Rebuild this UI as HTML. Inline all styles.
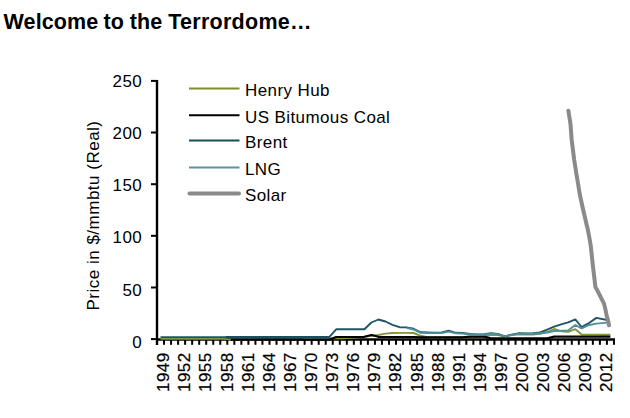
<!DOCTYPE html>
<html><head><meta charset="utf-8"><style>
html,body{margin:0;padding:0;background:#fff;}
body{width:630px;height:418px;overflow:hidden;}
svg{display:block;}
text{font-family:"Liberation Sans",sans-serif;font-size:17px;fill:#000;letter-spacing:0.5px;}
</style></head><body>
<svg width="630" height="418" viewBox="0 0 630 418">
<rect width="630" height="418" fill="#fff"/>
<text y="28.8" style="font-weight:bold;font-size:21.5px;letter-spacing:0.1px"><tspan x="3.6">Welcome</tspan> <tspan x="103.6">to</tspan> <tspan x="129.8">the</tspan> <tspan x="168.2" style="letter-spacing:0.28px">Terrordome…</tspan></text>
<text x="98.5" y="215.5" text-anchor="middle" transform="rotate(-90 98.5 215.5)">Price in $/mmbtu (Real)</text>
<g><text x="142.3" y="87.0" text-anchor="end">250</text><text x="142.3" y="139.1" text-anchor="end">200</text><text x="142.3" y="191.2" text-anchor="end">150</text><text x="142.3" y="243.4" text-anchor="end">100</text><text x="142.3" y="295.5" text-anchor="end">50</text><text x="142.3" y="347.6" text-anchor="end">0</text></g>
<g style="stroke:#000;stroke-width:0.2px"><text x="169.20" y="352.2" text-anchor="end" transform="rotate(-90 169.20 352.2)">1949</text><text x="190.31" y="352.2" text-anchor="end" transform="rotate(-90 190.31 352.2)">1952</text><text x="211.42" y="352.2" text-anchor="end" transform="rotate(-90 211.42 352.2)">1955</text><text x="232.53" y="352.2" text-anchor="end" transform="rotate(-90 232.53 352.2)">1958</text><text x="253.64" y="352.2" text-anchor="end" transform="rotate(-90 253.64 352.2)">1961</text><text x="274.75" y="352.2" text-anchor="end" transform="rotate(-90 274.75 352.2)">1964</text><text x="295.86" y="352.2" text-anchor="end" transform="rotate(-90 295.86 352.2)">1967</text><text x="316.97" y="352.2" text-anchor="end" transform="rotate(-90 316.97 352.2)">1970</text><text x="338.08" y="352.2" text-anchor="end" transform="rotate(-90 338.08 352.2)">1973</text><text x="359.19" y="352.2" text-anchor="end" transform="rotate(-90 359.19 352.2)">1976</text><text x="380.30" y="352.2" text-anchor="end" transform="rotate(-90 380.30 352.2)">1979</text><text x="401.41" y="352.2" text-anchor="end" transform="rotate(-90 401.41 352.2)">1982</text><text x="422.52" y="352.2" text-anchor="end" transform="rotate(-90 422.52 352.2)">1985</text><text x="443.63" y="352.2" text-anchor="end" transform="rotate(-90 443.63 352.2)">1988</text><text x="464.74" y="352.2" text-anchor="end" transform="rotate(-90 464.74 352.2)">1991</text><text x="485.85" y="352.2" text-anchor="end" transform="rotate(-90 485.85 352.2)">1994</text><text x="506.96" y="352.2" text-anchor="end" transform="rotate(-90 506.96 352.2)">1997</text><text x="528.07" y="352.2" text-anchor="end" transform="rotate(-90 528.07 352.2)">2000</text><text x="549.18" y="352.2" text-anchor="end" transform="rotate(-90 549.18 352.2)">2003</text><text x="570.29" y="352.2" text-anchor="end" transform="rotate(-90 570.29 352.2)">2006</text><text x="591.40" y="352.2" text-anchor="end" transform="rotate(-90 591.40 352.2)">2009</text><text x="612.51" y="352.2" text-anchor="end" transform="rotate(-90 612.51 352.2)">2012</text></g>
<g stroke="#000" stroke-width="2">
<line x1="157" y1="80" x2="157" y2="345" stroke-width="2.4"/>
<line x1="156" y1="339.5" x2="615" y2="339.5" stroke-width="2.6"/>
<line x1="151" y1="80.9" x2="157" y2="80.9"/><line x1="151" y1="132.5" x2="157" y2="132.5"/><line x1="151" y1="184.2" x2="157" y2="184.2"/><line x1="151" y1="235.8" x2="157" y2="235.8"/><line x1="151" y1="287.5" x2="157" y2="287.5"/><line x1="151" y1="339.1" x2="157" y2="339.1"/>
<line x1="157.00" y1="339" x2="157.00" y2="344.8" />
<line x1="164.03" y1="339" x2="164.03" y2="344.8" />
<line x1="171.06" y1="339" x2="171.06" y2="344.8" />
<line x1="178.09" y1="339" x2="178.09" y2="344.8" />
<line x1="185.12" y1="339" x2="185.12" y2="344.8" />
<line x1="192.15" y1="339" x2="192.15" y2="344.8" />
<line x1="199.18" y1="339" x2="199.18" y2="344.8" />
<line x1="206.21" y1="339" x2="206.21" y2="344.8" />
<line x1="213.24" y1="339" x2="213.24" y2="344.8" />
<line x1="220.27" y1="339" x2="220.27" y2="344.8" />
<line x1="227.30" y1="339" x2="227.30" y2="344.8" />
<line x1="234.33" y1="339" x2="234.33" y2="344.8" />
<line x1="241.36" y1="339" x2="241.36" y2="344.8" />
<line x1="248.39" y1="339" x2="248.39" y2="344.8" />
<line x1="255.42" y1="339" x2="255.42" y2="344.8" />
<line x1="262.45" y1="339" x2="262.45" y2="344.8" />
<line x1="269.48" y1="339" x2="269.48" y2="344.8" />
<line x1="276.51" y1="339" x2="276.51" y2="344.8" />
<line x1="283.54" y1="339" x2="283.54" y2="344.8" />
<line x1="290.57" y1="339" x2="290.57" y2="344.8" />
<line x1="297.60" y1="339" x2="297.60" y2="344.8" />
<line x1="304.63" y1="339" x2="304.63" y2="344.8" />
<line x1="311.66" y1="339" x2="311.66" y2="344.8" />
<line x1="318.69" y1="339" x2="318.69" y2="344.8" />
<line x1="325.72" y1="339" x2="325.72" y2="344.8" />
<line x1="332.75" y1="339" x2="332.75" y2="344.8" />
<line x1="339.78" y1="339" x2="339.78" y2="344.8" />
<line x1="346.81" y1="339" x2="346.81" y2="344.8" />
<line x1="353.84" y1="339" x2="353.84" y2="344.8" />
<line x1="360.87" y1="339" x2="360.87" y2="344.8" />
<line x1="367.90" y1="339" x2="367.90" y2="344.8" />
<line x1="374.93" y1="339" x2="374.93" y2="344.8" />
<line x1="381.96" y1="339" x2="381.96" y2="344.8" />
<line x1="388.99" y1="339" x2="388.99" y2="344.8" />
<line x1="396.02" y1="339" x2="396.02" y2="344.8" />
<line x1="403.05" y1="339" x2="403.05" y2="344.8" />
<line x1="410.08" y1="339" x2="410.08" y2="344.8" />
<line x1="417.11" y1="339" x2="417.11" y2="344.8" />
<line x1="424.14" y1="339" x2="424.14" y2="344.8" />
<line x1="431.17" y1="339" x2="431.17" y2="344.8" />
<line x1="438.20" y1="339" x2="438.20" y2="344.8" />
<line x1="445.23" y1="339" x2="445.23" y2="344.8" />
<line x1="452.26" y1="339" x2="452.26" y2="344.8" />
<line x1="459.29" y1="339" x2="459.29" y2="344.8" />
<line x1="466.32" y1="339" x2="466.32" y2="344.8" />
<line x1="473.35" y1="339" x2="473.35" y2="344.8" />
<line x1="480.38" y1="339" x2="480.38" y2="344.8" />
<line x1="487.41" y1="339" x2="487.41" y2="344.8" />
<line x1="494.44" y1="339" x2="494.44" y2="344.8" />
<line x1="501.47" y1="339" x2="501.47" y2="344.8" />
<line x1="508.50" y1="339" x2="508.50" y2="344.8" />
<line x1="515.53" y1="339" x2="515.53" y2="344.8" />
<line x1="522.56" y1="339" x2="522.56" y2="344.8" />
<line x1="529.59" y1="339" x2="529.59" y2="344.8" />
<line x1="536.62" y1="339" x2="536.62" y2="344.8" />
<line x1="543.65" y1="339" x2="543.65" y2="344.8" />
<line x1="550.68" y1="339" x2="550.68" y2="344.8" />
<line x1="557.71" y1="339" x2="557.71" y2="344.8" />
<line x1="564.74" y1="339" x2="564.74" y2="344.8" />
<line x1="571.77" y1="339" x2="571.77" y2="344.8" />
<line x1="578.80" y1="339" x2="578.80" y2="344.8" />
<line x1="585.83" y1="339" x2="585.83" y2="344.8" />
<line x1="592.86" y1="339" x2="592.86" y2="344.8" />
<line x1="599.89" y1="339" x2="599.89" y2="344.8" />
<line x1="606.92" y1="339" x2="606.92" y2="344.8" />
<line x1="613.95" y1="339" x2="613.95" y2="344.8" />
</g>
<g fill="none" stroke-linejoin="round">
<polyline points="160.5,338.9 167.5,338.9 174.6,338.9 181.6,338.9 188.6,338.9 195.7,338.9 202.7,338.9 209.7,338.9 216.7,338.9 223.8,338.9 230.8,339.6 237.8,339.6 244.9,339.6 251.9,339.6 258.9,339.6 265.9,339.6 273.0,339.6 280.0,339.6 287.0,339.6 294.1,339.6 301.1,339.6 308.1,338.7 315.2,338.7 322.2,338.7 329.2,338.6 336.2,338.4 343.3,338.2 350.3,337.8 357.3,337.4 364.4,336.8 371.4,335.8 378.4,335.0 385.5,333.6 392.5,333.0 399.5,332.9 406.6,332.9 413.6,333.0 420.6,335.8 427.6,337.3 434.7,337.3 441.7,337.3 448.7,337.3 455.8,337.3 462.8,337.3 469.8,337.0 476.9,337.0 483.9,336.5 490.9,334.9 497.9,335.0 505.0,336.6 512.0,334.6 519.0,334.4 526.1,334.5 533.1,334.6 540.1,333.8 547.2,332.0 554.2,329.0 561.2,331.2 568.2,331.8 575.3,329.2 581.6,334.5 589.3,334.6 596.4,334.6 603.4,334.8 610.4,334.6" stroke="#839638" stroke-width="1.9"/>
<polyline points="230.8,339.6 237.8,339.6 244.9,339.6 251.9,339.6 258.9,339.6 265.9,339.6 273.0,339.6 280.0,339.6 287.0,339.6 294.1,339.6 301.1,339.6 308.1,339.6 315.2,339.6 322.2,339.6 329.2,339.6 336.2,337.0 343.3,337.0 350.3,337.0 357.3,337.0 364.4,336.8 371.4,335.0 378.4,336.8 385.5,337.0 392.5,337.0 399.5,337.0 406.6,337.0 413.6,337.0 420.6,337.4 427.6,337.4 434.7,337.4 441.7,337.4 448.7,337.4 455.8,337.4 462.8,337.4 469.8,336.6 476.9,336.6 483.9,336.6 490.9,338.3 497.9,338.3 505.0,338.3 512.0,338.3 519.0,338.3 526.1,338.3 533.1,338.3 540.1,338.3 547.2,338.3 554.2,336.6 561.2,336.6 568.2,336.6 575.3,336.6 581.6,336.6 589.3,336.6 596.4,336.6 603.4,336.6 610.4,336.6" stroke="#000" stroke-width="2.2"/>
<polyline points="160.5,337.1 167.5,337.1 174.6,337.1 181.6,337.1 188.6,337.1 195.7,337.1 202.7,337.1 209.7,337.1 216.7,337.1 223.8,337.1 230.8,337.1 237.8,337.1 244.9,337.1 251.9,337.1 258.9,337.1 265.9,337.1 273.0,337.1 280.0,337.1 287.0,337.1 294.1,337.1 301.1,337.1 308.1,337.1 315.2,337.1 322.2,337.1 329.2,337.1 336.2,329.3 343.3,329.3 350.3,329.3 357.3,329.3 364.4,329.3 371.4,322.5 378.4,319.5 385.5,321.5 392.5,324.8 399.5,327.2 406.6,327.4 413.6,328.8 420.6,332.3 427.6,332.4 434.7,332.6 441.7,332.4 448.7,330.6 455.8,332.8 462.8,333.0 469.8,334.0 476.9,334.4 483.9,334.2 490.9,333.3 497.9,334.0 505.0,336.3 512.0,334.6 519.0,333.3 526.1,333.5 533.1,333.3 540.1,332.5 547.2,329.6 554.2,326.7 561.2,324.4 568.2,322.4 575.3,319.4 581.6,327.0 589.3,322.8 596.4,317.9 607.0,320.0" stroke="#1f5568" stroke-width="1.9"/>
<polyline points="225.8,337.2 329.2,337.2" stroke="#1d4f61" stroke-width="2.6"/>
<polyline points="406.6,327.8 413.6,329.5 420.6,332.8 427.6,333.0 434.7,333.1 441.7,333.0 448.7,331.6 455.8,333.3 462.8,333.6 469.8,334.5 476.9,334.8 483.9,334.5 490.9,333.8 497.9,334.3 505.0,336.3 512.0,335.0 519.0,333.8 526.1,333.6 533.1,333.8 540.1,333.3 547.2,332.5 554.2,331.0 561.2,330.8 568.2,330.4 575.3,325.0 581.6,328.3 589.3,325.0 596.4,323.6 607.0,322.6" stroke="#4e8f9c" stroke-width="1.9"/>
<polyline points="568.4,110.8 570.5,124.1 571.7,140.0 574.2,160.0 576.6,175.0 579.9,195.0 583.2,210.0 587.9,230.0 589.8,240.0 590.9,247.0 592.8,265.0 594.6,280.0 595.4,287.0 598.4,292.5 601.1,297.9 604.1,303.9 605.5,309.9 606.7,315.8 608.1,320.6 609.0,325.3" stroke="#8a8a8a" stroke-width="4" stroke-linecap="round"/>
</g>
<line x1="189" y1="88.6" x2="239.5" y2="88.6" stroke="#7b8d2c" stroke-width="2"/><text x="245" y="95.9" style="letter-spacing:0.4px">Henry Hub</text><line x1="189" y1="115.3" x2="239.5" y2="115.3" stroke="#000" stroke-width="2"/><text x="245" y="122.6" style="letter-spacing:0.4px">US Bitumous Coal</text><line x1="189" y1="140.4" x2="239.5" y2="140.4" stroke="#1a4b5e" stroke-width="2"/><text x="245" y="147.7" style="letter-spacing:0.4px">Brent</text><line x1="189" y1="167.4" x2="239.5" y2="167.4" stroke="#5b929e" stroke-width="2"/><text x="245" y="174.7" style="letter-spacing:0.4px">LNG</text><line x1="189.5" y1="193.6" x2="239" y2="193.6" stroke="#8a8a8a" stroke-width="4" stroke-linecap="round"/><text x="245" y="200.9" style="letter-spacing:0.4px">Solar</text>
</svg>
</body></html>
